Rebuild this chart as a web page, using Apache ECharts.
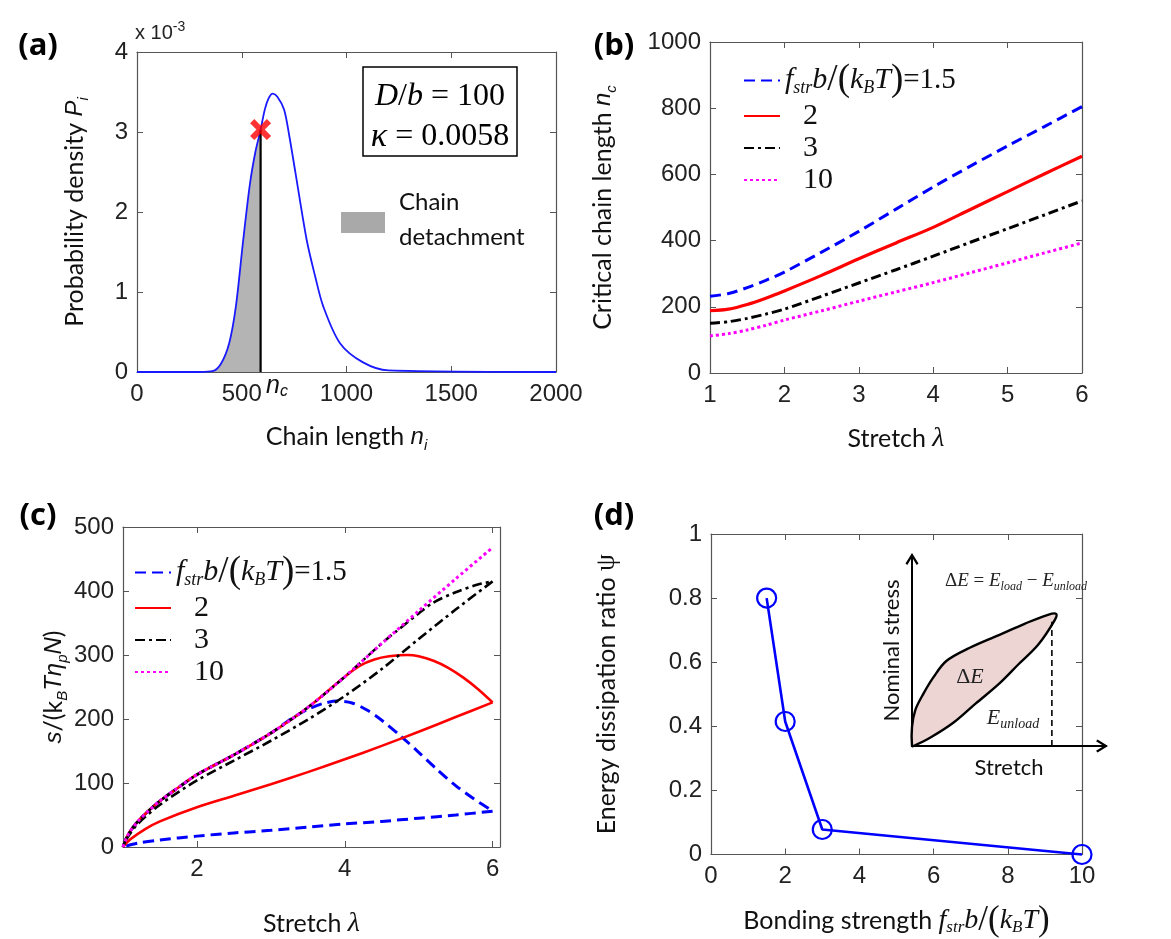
<!DOCTYPE html>
<html>
<head>
<meta charset="utf-8">
<script src="https://cdn.jsdelivr.net/npm/echarts@6/dist/echarts.min.js"></script>
<style>
  html, body { margin: 0; padding: 0; background: #ffffff; }
  #main { width: 1171px; height: 939px; }
</style>
</head>
<body>
<div id="main"></div>
<script>
// ---------- (a) probability density of chain length (values in units of 1e-3) ----------
const chainLength = [0, 300, 360, 400, 440, 472, 507, 539, 565, 590, 610, 628, 648, 670, 702, 727, 757, 810, 850, 889, 969, 1079, 1200, 2000];
const probDensity = [0, 0, 0.01, 0.1, 0.36, 0.82, 1.65, 2.35, 2.75, 3.03, 3.28, 3.42, 3.48, 3.44, 3.28, 2.95, 2.48, 1.65, 1.2, 0.82, 0.36, 0.12, 0.02, 0];
const nCritical = 590;
const pCritical = 3.03;

// ---------- (b) critical chain length vs stretch ----------
const stretchB = [1, 1.25, 1.5, 1.75, 2, 2.5, 3, 3.5, 4, 4.5, 5, 5.5, 6];
const ncStr15 = [232, 240, 258, 280, 305, 365, 428, 495, 562, 625, 686, 745, 805];
const ncStr2 = [188, 193, 207, 226, 248, 295, 345, 393, 440, 494, 548, 602, 655];
const ncStr3 = [150, 155, 165, 178, 193, 232, 272, 312, 353, 395, 436, 478, 520];
const ncStr10 = [112, 119, 130, 144, 160, 188, 217, 245, 273, 303, 333, 363, 393];

// ---------- (c) stress during loading and unloading ----------
const lamLoad10 = [1, 1.05, 1.1, 1.2, 1.35, 1.5, 1.75, 2, 2.5, 3, 3.5, 4, 4.5, 5, 5.5, 6];
const sLoad10 = [0, 15, 25, 40, 57, 72, 93, 113, 144, 178, 218, 266, 318, 369, 419, 468];

const lamLoad3 = [1, 1.05, 1.1, 1.2, 1.35, 1.5, 1.75, 2, 2.5, 3, 3.5, 4, 4.5, 5, 5.2, 5.5, 5.8, 6];
const sLoad3 = [0, 15, 25, 40, 57, 72, 93, 113, 144, 178, 218, 266, 318, 365, 382, 398, 410, 415];
const lamUnload3 = [6, 5.5, 5, 4.5, 4, 3.5, 3, 2.5, 2, 1.5, 1.2, 1.05, 1];
const sUnload3 = [415, 371, 325, 278, 236, 199, 166, 135, 104, 66, 36, 13, 0];

const lamLoad2 = [1, 1.05, 1.1, 1.2, 1.35, 1.5, 1.75, 2, 2.5, 3, 3.5, 4, 4.2, 4.4, 4.6, 4.85, 5, 5.2, 5.4, 5.6, 5.8, 6];
const sLoad2 = [0, 15, 25, 40, 57, 72, 93, 113, 144, 178, 218, 266, 283, 293, 298, 300, 298, 291, 280, 265, 247, 226];
const lamUnload2 = [6, 5.5, 5, 4.5, 4, 3.5, 3, 2.5, 2, 1.5, 1.3, 1.1, 1];
const sUnload2 = [226, 203, 180, 158, 137, 117, 98, 80, 62, 40, 28, 12, 0];

const lamLoad15 = [1, 1.05, 1.1, 1.2, 1.35, 1.5, 1.75, 2, 2.5, 3, 3.3, 3.5, 3.7, 3.9, 4.1, 4.3, 4.5, 4.75, 5, 5.25, 5.5, 5.75, 6];
const sLoad15 = [0, 15, 25, 40, 57, 72, 93, 113, 144, 178, 202, 215, 224, 228, 225, 214, 198, 174, 148, 121, 96, 75, 56];
const lamUnload15 = [6, 5.5, 5, 4.5, 4, 3.5, 3, 2.5, 2, 1.5, 1.2, 1];
const sUnload15 = [56, 50, 45, 40, 36, 31, 26, 22, 17, 11, 6, 0];
const ticksCx = [2, 4, 6];

// ---------- (d) energy dissipation ratio vs bonding strength ----------
const bondStrength = [1.5, 2, 3, 10];
const dissipation = [0.80, 0.415, 0.078, 0.0];

// inset sketch: load / unload loop (arbitrary units 0..1)
const loopX = [0, 0.0, 0.017, 0.059, 0.11, 0.177, 0.295, 0.448, 0.583, 0.701, 0.743, 0.735, 0.65, 0.549, 0.448, 0.329, 0.211, 0.093, 0.008];
const loopY = [0, 0.10, 0.188, 0.274, 0.359, 0.445, 0.513, 0.581, 0.641, 0.687, 0.692, 0.658, 0.53, 0.428, 0.325, 0.223, 0.12, 0.043, 0.0];
const unloadMarkX = 0.721;
const unloadMarkY = [0, 0.65];

// ---------- styling helpers ----------
const AX = '#555555';
const LBL = { fontFamily: 'Liberation Sans', fontSize: 24, color: '#222222', formatter: v => String(v) };
const zip = (xs, ys) => xs.map((x, i) => [x, ys[i]]);

const titleRich = {
  t: { fontFamily: 'Lato', fontSize: 25, lineHeight: 32, color: '#111' },
  i: { fontFamily: 'Liberation Sans', fontStyle: 'italic', fontSize: 24, lineHeight: 32, color: '#111' },
  s: { fontFamily: 'Liberation Sans', fontStyle: 'italic', fontSize: 15, lineHeight: 16, verticalAlign: 'bottom', color: '#111' },
  si: { fontFamily: 'Liberation Serif', fontStyle: 'italic', fontSize: 28, lineHeight: 32, color: '#111' },
  ss: { fontFamily: 'Liberation Serif', fontStyle: 'italic', fontSize: 17, lineHeight: 16, verticalAlign: 'bottom', color: '#111' },
  sp: { fontFamily: 'Liberation Serif', fontSize: 35, lineHeight: 32, color: '#111' },
  sr: { fontFamily: 'Liberation Serif', fontSize: 27, lineHeight: 32, color: '#111' }
};

const legendRich = {
  ti: { fontFamily: 'Liberation Serif', fontStyle: 'italic', fontSize: 30, lineHeight: 33, color: '#111' },
  ts: { fontFamily: 'Liberation Serif', fontStyle: 'italic', fontSize: 18, lineHeight: 16, verticalAlign: 'bottom', color: '#111' },
  tp: { fontFamily: 'Liberation Serif', fontSize: 37, lineHeight: 33, color: '#111' },
  tr: { fontFamily: 'Liberation Serif', fontSize: 29, lineHeight: 33, color: '#111' },
  tn: { fontFamily: 'Liberation Serif', fontSize: 30, lineHeight: 33, color: '#111', padding: [0, 0, 0, 18] }
};
const strengthLabel = '{ti|f}{ts|str}{ti|b}{tp|/(}{ti|k}{ts|B}{ti|T}{tp|)}{tr|=1.5}';

const xAxes = [];
const yAxes = [];

// boxed axes: labelled bottom/left plus mirrored top/right with inward ticks
function boxAxes(grid, xo, yo) {
  const tick = { inside: true, length: 6, lineStyle: { color: AX, width: 1 } };
  const line = { show: true, onZero: false, lineStyle: { color: AX, width: 1.2 } };
  const xi = xAxes.length;
  const yi = yAxes.length;
  xAxes.push(Object.assign({
    type: 'value', gridIndex: grid, position: 'bottom',
    axisLine: line, axisTick: tick, splitLine: { show: false },
    axisLabel: Object.assign({ margin: 10 }, LBL),
    nameLocation: 'middle', nameTextStyle: { rich: titleRich }
  }, xo));
  xAxes.push({
    type: 'value', gridIndex: grid, position: 'top',
    axisLine: line, splitLine: { show: false },
    axisLabel: { show: false },
    min: xo.min, max: xo.max, interval: xo.interval,
    axisTick: Object.assign({}, tick, xo.axisTick && xo.axisTick.customValues ? { customValues: xo.axisTick.customValues } : {})
  });
  yAxes.push(Object.assign({
    type: 'value', gridIndex: grid, position: 'left',
    axisLine: line, axisTick: tick, splitLine: { show: false },
    axisLabel: Object.assign({ margin: 9 }, LBL),
    nameLocation: 'middle', nameTextStyle: { rich: titleRich }
  }, yo));
  yAxes.push({
    type: 'value', gridIndex: grid, position: 'right',
    axisLine: line, axisTick: tick, splitLine: { show: false },
    axisLabel: { show: false }, min: yo.min, max: yo.max, interval: yo.interval
  });
  return { x: xi, y: yi };
}

const grids = [
  { left: 137, top: 52, width: 419, height: 320 },   // (a)
  { left: 710, top: 42, width: 372, height: 331 },   // (b)
  { left: 123, top: 527, width: 377, height: 331 },  // (c)
  { left: 711, top: 534, width: 371, height: 321 },  // (d)
  { left: 912, top: 555, width: 194, height: 191 }   // (d) inset
];

const axA = boxAxes(0,
  { min: 0, max: 2000, interval: 500, name: '{t|Chain length }{i|n}{s|i}', nameGap: 49 },
  { min: 0, max: 4, interval: 1, name: '{t|Probability density }{i|P}{s|i}', nameGap: 46 });
const axB = boxAxes(1,
  { min: 1, max: 6, interval: 1, name: '{t|Stretch }{si|λ}', nameGap: 50 },
  { min: 0, max: 1000, interval: 200, name: '{t|Critical chain length }{i|n}{s|c}', nameGap: 91 });
const axC = boxAxes(2,
  { min: 1, max: 6.1, interval: 1, name: '{t|Stretch }{si|λ}', nameGap: 61,
    axisLabel: Object.assign({ margin: 10, customValues: ticksCx }, LBL),
    axisTick: { inside: true, length: 6, lineStyle: { color: AX, width: 1 }, customValues: ticksCx } },
  { min: 0, max: 500, interval: 100, name: '{i|s}{t|/(k}{s|B}{i|Tη}{s|p}{i|N}{t|)}', nameGap: 50 });
const axD = boxAxes(3,
  { min: 0, max: 10, interval: 2, name: '{t|Bonding strength }{si|f}{ss|str}{si|b}{sp|/(}{si|k}{ss|B}{si|T}{sp|)}', nameGap: 50 },
  { min: 0, max: 1, interval: 0.2, name: '{t|Energy dissipation ratio }{sr|ψ}', nameGap: 88 });

// inset axes drawn as arrows
const chevron = 'path://M5,0 L10,8 L8.6,9.2 L5,3.2 L1.4,9.2 L0,8 Z';
const insetX = xAxes.length;
xAxes.push({
  type: 'value', gridIndex: 4, min: 0, max: 1,
  axisLine: { show: true, onZero: false, symbol: ['none', chevron], symbolSize: [15, 12], symbolOffset: [0, -4], lineStyle: { color: '#000', width: 2 } },
  axisTick: { show: false }, axisLabel: { show: false }, splitLine: { show: false },
  name: 'Stretch', nameLocation: 'middle', nameGap: 11,
  nameTextStyle: { fontFamily: 'Lato', fontSize: 22, color: '#111', verticalAlign: 'top' }
});
const insetY = yAxes.length;
yAxes.push({
  type: 'value', gridIndex: 4, min: 0, max: 1,
  axisLine: { show: true, onZero: false, symbol: ['none', chevron], symbolSize: [15, 12], symbolOffset: [0, -4], lineStyle: { color: '#000', width: 2 } },
  axisTick: { show: false }, axisLabel: { show: false }, splitLine: { show: false },
  name: 'Nominal stress', nameLocation: 'middle', nameGap: 9,
  nameTextStyle: { fontFamily: 'Lato', fontSize: 22, color: '#111' }
});

const shadeIdx = chainLength.map((n, i) => i).filter(i => chainLength[i] <= nCritical);

function lineSeries(name, ax, xs, ys, color, type, width) {
  return {
    type: 'line', name: name, xAxisIndex: ax.x, yAxisIndex: ax.y,
    data: zip(xs, ys), symbol: 'none', smooth: 0.3,
    lineStyle: { color: color, type: type, width: width }, itemStyle: { color: color },
    clip: true
  };
}

const DASH = [11, 6];
const DASHDOT = [10, 4, 3, 4];
const DOT = [3, 3];

const series = [
  // (a)
  {
    type: 'line', xAxisIndex: axA.x, yAxisIndex: axA.y, z: 1,
    data: shadeIdx.map(i => [chainLength[i], probDensity[i]]),
    symbol: 'none', smooth: 0.3,
    lineStyle: { width: 0 }, areaStyle: { color: '#b4b4b4', opacity: 1 }
  },
  Object.assign(lineSeries('pa', axA, chainLength, probDensity, '#1a1aff', 'solid', 1.8), { z: 3 }),
  {
    type: 'line', xAxisIndex: axA.x, yAxisIndex: axA.y, z: 4,
    data: [[nCritical, 0], [nCritical, pCritical]], symbol: 'none',
    lineStyle: { color: '#000', width: 2.2 }
  },
  {
    type: 'scatter', xAxisIndex: axA.x, yAxisIndex: axA.y, z: 5,
    data: [[nCritical, pCritical]],
    symbol: 'path://M2,0 L5,3 L8,0 L10,2 L7,5 L10,8 L8,10 L5,7 L2,10 L0,8 L3,5 L0,2 Z',
    symbolSize: 21, itemStyle: { color: '#ff0000' }
  },
  // (b)
  lineSeries('b15', axB, stretchB, ncStr15, '#0000ff', DASH, 3),
  lineSeries('b2', axB, stretchB, ncStr2, '#ff0000', 'solid', 3.2),
  lineSeries('b3', axB, stretchB, ncStr3, '#000000', DASHDOT, 3),
  lineSeries('b10', axB, stretchB, ncStr10, '#ff00ff', DOT, 3),
  // (c)
  lineSeries('c15', axC, lamLoad15, sLoad15, '#0000ff', DASH, 3),
  lineSeries('c15', axC, lamUnload15, sUnload15, '#0000ff', DASH, 3),
  lineSeries('c2', axC, lamLoad2, sLoad2, '#ff0000', 'solid', 2.6),
  lineSeries('c2', axC, lamUnload2, sUnload2, '#ff0000', 'solid', 2.6),
  lineSeries('c3', axC, lamLoad3, sLoad3, '#000000', DASHDOT, 2.6),
  lineSeries('c3', axC, lamUnload3, sUnload3, '#000000', DASHDOT, 2.6),
  lineSeries('c10', axC, lamLoad10, sLoad10, '#ff00ff', DOT, 3),
  // (d)
  {
    type: 'line', xAxisIndex: axD.x, yAxisIndex: axD.y, name: 'psi',
    data: zip(bondStrength, dissipation),
    symbol: 'circle', symbolSize: 19, showSymbol: true,
    lineStyle: { color: '#0000ff', width: 2.6 },
    itemStyle: { color: 'rgba(0,0,0,0)', borderColor: '#0000ff', borderWidth: 2.2 },
    clip: false, z: 3
  },
  // (d) inset loop
  {
    type: 'custom', xAxisIndex: insetX, yAxisIndex: insetY, z: 4,
    data: [[0, 0]],
    renderItem: function (params, api) {
      const pts = loopX.map((x, i) => api.coord([x, loopY[i]]));
      return {
        type: 'polygon',
        shape: { points: pts, smooth: 0.35 },
        style: { fill: '#ecd5d3', stroke: '#000', lineWidth: 2.4 }
      };
    }
  },
  {
    type: 'line', xAxisIndex: insetX, yAxisIndex: insetY, z: 4,
    data: [[unloadMarkX, unloadMarkY[0]], [unloadMarkX, unloadMarkY[1]]],
    symbol: 'none', lineStyle: { color: '#000', width: 1.6, type: [6, 4] }
  }
];

const legendBase = {
  orient: 'vertical', selectedMode: false, itemGap: 2,
  itemWidth: 36, itemHeight: 14,
  itemStyle: { opacity: 0 },
  textStyle: { rich: legendRich },
  formatter: function (n) {
    if (n.endsWith('15')) return strengthLabel;
    if (n.endsWith('10')) return '{tn|10}';
    return '{tn|' + n.slice(1) + '}';
  }
};

const letterStyle = { fontFamily: 'Open Sans', fontWeight: 'bold', fontSize: 31, fill: '#000', align: 'center', verticalAlign: 'middle' };

const graphic = [
  // panel letters
  { type: 'text', x: 38, y: 46, style: Object.assign({ text: '(a)' }, letterStyle) },
  { type: 'text', x: 614, y: 46, style: Object.assign({ text: '(b)' }, letterStyle) },
  { type: 'text', x: 38, y: 516, style: Object.assign({ text: '(c)' }, letterStyle) },
  { type: 'text', x: 614, y: 516, style: Object.assign({ text: '(d)' }, letterStyle) },
  // exponent of the (a) y axis
  { type: 'text', x: 135, y: 33, style: {
      text: '{a|x 10}{b|-3}', align: 'left', verticalAlign: 'middle',
      rich: { a: { fontFamily: 'Liberation Sans', fontSize: 20, lineHeight: 26, fill: '#222' },
              b: { fontFamily: 'Liberation Sans', fontSize: 14, lineHeight: 14, verticalAlign: 'top', fill: '#222' } } } },
  // parameter box in (a)
  { type: 'rect', shape: { x: 363, y: 67, width: 154, height: 89 }, style: { fill: '#fff', stroke: '#000', lineWidth: 1.5 }, z: 10 },
  { type: 'text', x: 440, y: 97, z: 11, style: {
      text: '{i|D}{r|/}{i|b}{r| = 100}', align: 'center', verticalAlign: 'middle',
      rich: { i: { fontFamily: 'Liberation Serif', fontStyle: 'italic', fontSize: 32, fill: '#000' },
              r: { fontFamily: 'Liberation Serif', fontSize: 32, fill: '#000' } } } },
  { type: 'text', x: 440, y: 137, z: 11, style: {
      text: '{i|κ}{r| = 0.0058}', align: 'center', verticalAlign: 'middle',
      rich: { i: { fontFamily: 'Liberation Serif', fontStyle: 'italic', fontSize: 34, fill: '#000' },
              r: { fontFamily: 'Liberation Serif', fontSize: 32, fill: '#000' } } } },
  // shaded-area key in (a)
  { type: 'rect', shape: { x: 341, y: 212, width: 44, height: 21 }, style: { fill: '#a9a9a9' } },
  { type: 'text', x: 399, y: 202, style: { text: 'Chain', fontFamily: 'Lato', fontSize: 24, fill: '#111', align: 'left', verticalAlign: 'middle' } },
  { type: 'text', x: 399, y: 237, style: { text: 'detachment', fontFamily: 'Lato', fontSize: 24, fill: '#111', align: 'left', verticalAlign: 'middle' } },
  // n_c marker label
  { type: 'text', x: 266, y: 386, style: {
      text: '{i|n}{s|c}', align: 'left', verticalAlign: 'middle',
      rich: { i: { fontFamily: 'Liberation Sans', fontStyle: 'italic', fontSize: 25, lineHeight: 28, fill: '#111' },
              s: { fontFamily: 'Liberation Sans', fontStyle: 'italic', fontSize: 16, lineHeight: 16, verticalAlign: 'bottom', fill: '#111' } } } },
  // inset annotations
  { type: 'text', x: 1016, y: 581, z: 20, style: {
      text: '{r|Δ}{i|E}{r| = }{i|E}{s|load}{r| − }{i|E}{s|unload}', align: 'center', verticalAlign: 'middle',
      rich: { r: { fontFamily: 'Liberation Serif', fontSize: 19, lineHeight: 24, fill: '#222' },
              i: { fontFamily: 'Liberation Serif', fontStyle: 'italic', fontSize: 19, lineHeight: 24, fill: '#222' },
              s: { fontFamily: 'Liberation Serif', fontStyle: 'italic', fontSize: 12, lineHeight: 12, verticalAlign: 'bottom', fill: '#222' } } } },
  { type: 'text', x: 970, y: 677, z: 20, style: {
      text: '{r|Δ}{i|E}', align: 'center', verticalAlign: 'middle',
      rich: { r: { fontFamily: 'Liberation Serif', fontSize: 22, fill: '#222' },
              i: { fontFamily: 'Liberation Serif', fontStyle: 'italic', fontSize: 22, fill: '#222' } } } },
  { type: 'text', x: 1013, y: 718, z: 20, style: {
      text: '{i|E}{s|unload}', align: 'center', verticalAlign: 'middle',
      rich: { i: { fontFamily: 'Liberation Serif', fontStyle: 'italic', fontSize: 22, lineHeight: 26, fill: '#222' },
              s: { fontFamily: 'Liberation Serif', fontStyle: 'italic', fontSize: 14, lineHeight: 14, verticalAlign: 'bottom', fill: '#222' } } } }
];

const chart = echarts.init(document.getElementById('main'), null, { renderer: 'canvas' });
chart.setOption({
  backgroundColor: '#ffffff',
  animation: false,
  grid: grids,
  xAxis: xAxes,
  yAxis: yAxes,
  legend: [
    Object.assign({ left: 738, top: 57, data: ['b15', 'b2', 'b3', 'b10'] }, legendBase),
    Object.assign({ left: 129, top: 549, data: ['c15', 'c2', 'c3', 'c10'] }, legendBase)
  ],
  series: series,
  graphic: graphic
});
</script>
</body>
</html>
